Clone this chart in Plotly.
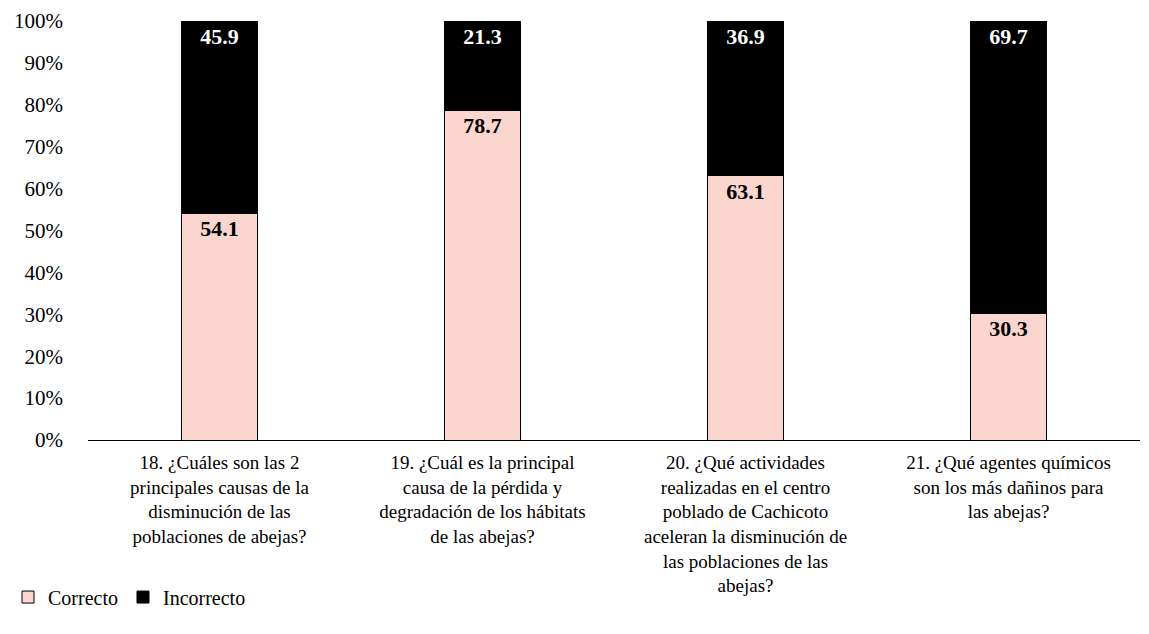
import plotly.graph_objects as go

categories = [
    "18. ¿Cuáles son las 2<br>principales causas de la<br>disminución de las<br>poblaciones de abejas?",
    "19. ¿Cuál es la principal<br>causa de la pérdida y<br>degradación de los hábitats<br>de las abejas?",
    "20. ¿Qué actividades<br>realizadas en el centro<br>poblado de Cachicoto<br>aceleran la disminución de<br>las poblaciones de las<br>abejas?",
    "21. ¿Qué agentes químicos<br>son los más dañinos para<br>las abejas?",
]
correcto = [54.1, 78.7, 63.1, 30.3]
incorrecto = [45.9, 21.3, 36.9, 69.7]
y_ticks = list(range(0, 101, 10))
y_tick_labels = [f"{v}%" for v in y_ticks]

SERIF = "Liberation Serif, Times New Roman, serif"

fig = go.Figure()
fig.add_trace(go.Bar(
    x=categories, y=correcto, name="Correcto",
    marker=dict(color="#FAD6CF", line=dict(color="#000000", width=1)),
    text=[f"{v:.1f}" for v in correcto], textposition="inside",
    insidetextanchor="end", textangle=0,
    textfont=dict(family=SERIF, size=22, color="#000000", weight="bold"),
    width=0.29,
))
fig.add_trace(go.Bar(
    x=categories, y=incorrecto, name="Incorrecto",
    marker=dict(color="#000000", line=dict(color="#000000", width=1)),
    text=[f"{v:.1f}" for v in incorrecto], textposition="inside",
    insidetextanchor="end", textangle=0,
    textfont=dict(family=SERIF, size=22, color="#FFFFFF", weight="bold"),
    width=0.29,
))

# the page body adds an 8px margin, so the figure is sized to compensate
fig.update_layout(
    barmode="stack",
    width=1141, height=626,
    margin=dict(l=80, r=9, t=13, b=194),
    paper_bgcolor="white", plot_bgcolor="white",
    font=dict(family=SERIF, size=19, color="#000000"),
    legend=dict(
        orientation="h", xref="container", yref="container",
        x=0.0, y=0.059, xanchor="left", yanchor="middle",
        font=dict(family=SERIF, size=20, color="#000000"),
        itemwidth=30, traceorder="normal",
    ),
    showlegend=True,
)
fig.update_xaxes(
    showline=True, linecolor="#000000", linewidth=1,
    ticks="", tickangle=0, automargin=False, ticklabelstandoff=5,
    tickfont=dict(family=SERIF, size=19, color="#000000"),
)
fig.update_yaxes(
    range=[0, 100], tickmode="array", tickvals=y_ticks, ticktext=y_tick_labels,
    showgrid=False, zeroline=False, showline=False, automargin=False,
    ticklabelstandoff=24,
    tickfont=dict(family=SERIF, size=21, color="#000000"), ticklen=0,
)

fig.write_html("out.html")
